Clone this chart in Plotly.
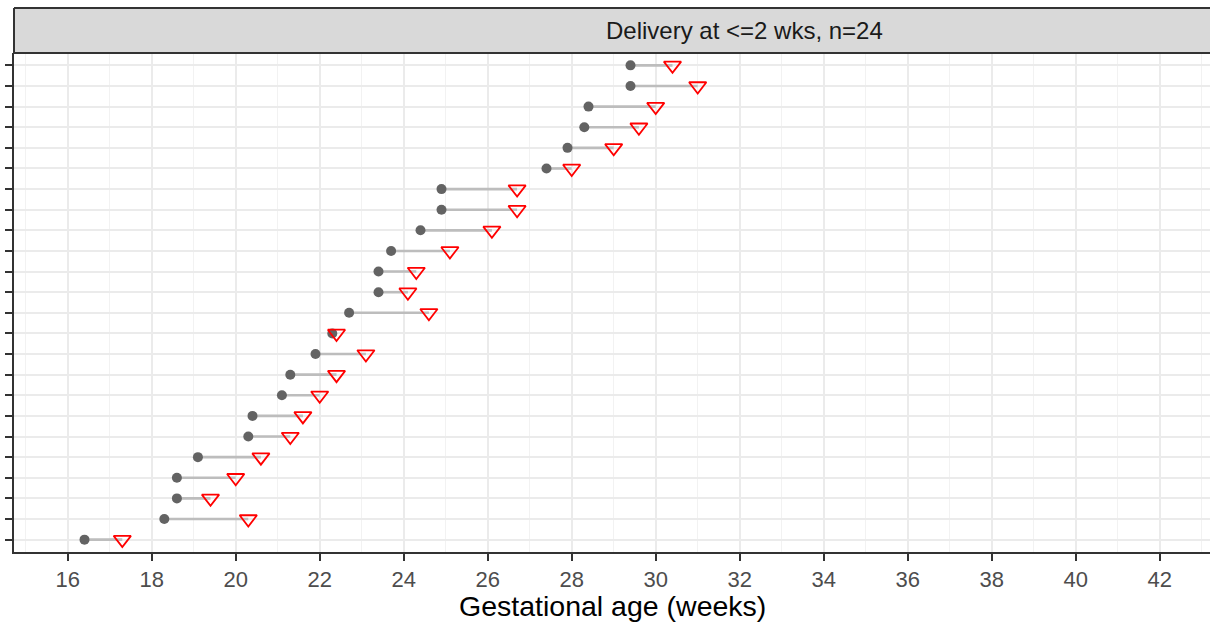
import plotly.graph_objects as go

# rows listed from top to bottom
start_ga = [29.4, 29.4, 28.4, 28.3, 27.9, 27.4, 24.9, 24.9, 24.4, 23.7, 23.4, 23.4,
            22.7, 22.3, 21.9, 21.3, 21.1, 20.4, 20.3, 19.1, 18.6, 18.6, 18.3, 16.4]
delivery_ga = [30.4, 31.0, 30.0, 29.6, 29.0, 28.0, 26.7, 26.7, 26.1, 25.1, 24.3, 24.1,
               24.6, 22.4, 23.1, 22.4, 22.0, 21.6, 21.3, 20.6, 20.0, 19.4, 20.3, 17.3]
x_ticks = [16, 18, 20, 22, 24, 26, 28, 30, 32, 34, 36, 38, 40, 42]
strip_label = "Delivery at <=2 wks, n=24"
x_title = "Gestational age (weeks)"

n = len(start_ga)
rows = [n - 1 - i for i in range(n)]  # top row gets highest index

seg_x, seg_y = [], []
for s, d, r in zip(start_ga, delivery_ga, rows):
    seg_x += [s, d, None]
    seg_y += [r, r, None]

fig = go.Figure()
fig.add_trace(go.Scatter(x=seg_x, y=seg_y, mode="lines",
                         line=dict(color="#bdbdbd", width=2.6),
                         hoverinfo="skip", showlegend=False))
fig.add_trace(go.Scatter(x=start_ga, y=rows, mode="markers",
                         marker=dict(symbol="circle", size=10, color="#636363"),
                         showlegend=False))
fig.add_trace(go.Scatter(x=delivery_ga, y=rows, mode="markers",
                         marker=dict(symbol="triangle-down-open", size=15, color="red",
                                     line=dict(width=1.8, color="red")),
                         showlegend=False))

W, H = 1210, 622
ml, mr, mt, mb = 14, 0, 53, 70
plot_w = W - ml - mr
plot_h = H - mt - mb
px_per_unit = 42.0
x0 = 16 - (67.7 - ml) / px_per_unit
x1 = x0 + plot_w / px_per_unit

strip_top = 8
strip_y1 = (H - mb - strip_top) / plot_h

fig.update_layout(
    width=W, height=H,
    margin=dict(l=ml, r=mr, t=mt, b=mb, pad=0, autoexpand=False),
    paper_bgcolor="white", plot_bgcolor="white",
    font=dict(family="Liberation Sans, Arial, sans-serif", color="#4d4d4d"),
    xaxis=dict(range=[x0, x1], tickvals=x_ticks, ticktext=[str(t) for t in x_ticks],
               showgrid=True, gridcolor="#ebebeb", gridwidth=2,
               minor=dict(dtick=1, tick0=15, showgrid=True, gridcolor="#f2f2f2", gridwidth=1,
                          ticks=""),
               ticks="outside", ticklen=7, tickwidth=2, tickcolor="#333333",
               showline=True, linecolor="#333333", linewidth=2,
               tickfont=dict(size=22, color="#4d4d4d"),
               automargin=False, zeroline=False, fixedrange=True),
    yaxis=dict(range=[-0.6, n - 0.4], tickvals=list(range(n)), showticklabels=False,
               showgrid=True, gridcolor="#ebebeb", gridwidth=2,
               ticks="outside", ticklen=7, tickwidth=2, tickcolor="#333333",
               showline=True, linecolor="#333333", linewidth=2,
               automargin=False, zeroline=False, fixedrange=True),
)

# facet strip: filled box, border only on left/top/bottom (right side runs off the page)
fig.add_shape(type="rect", xref="paper", yref="paper",
              x0=0, x1=1.02, y0=1, y1=strip_y1,
              fillcolor="#d9d9d9", line=dict(width=0), layer="above")
for sx0, sy0, sx1, sy1 in [(0, 1, 1.02, 1), (0, strip_y1, 1.02, strip_y1), (0, 1, 0, strip_y1)]:
    fig.add_shape(type="line", xref="paper", yref="paper", x0=sx0, y0=sy0, x1=sx1, y1=sy1,
                  line=dict(color="#333333", width=2), layer="above")
fig.add_annotation(xref="paper", yref="paper", x=(744 - ml) / plot_w, y=(1 + strip_y1) / 2,
                   text=strip_label, showarrow=False, xanchor="center", yanchor="middle",
                   font=dict(size=24, color="#1a1a1a"))
fig.add_annotation(xref="paper", yref="paper", x=(612 - ml) / plot_w,
                   y=-(606 - (H - mb)) / plot_h,
                   text=x_title, showarrow=False, xanchor="center", yanchor="middle",
                   font=dict(size=28.5, color="black"))

fig.write_html(
    "out.html",
    config={"displayModeBar": False, "staticPlot": True},
    post_script="document.body.style.margin='0';document.body.style.overflow='hidden';",
)
